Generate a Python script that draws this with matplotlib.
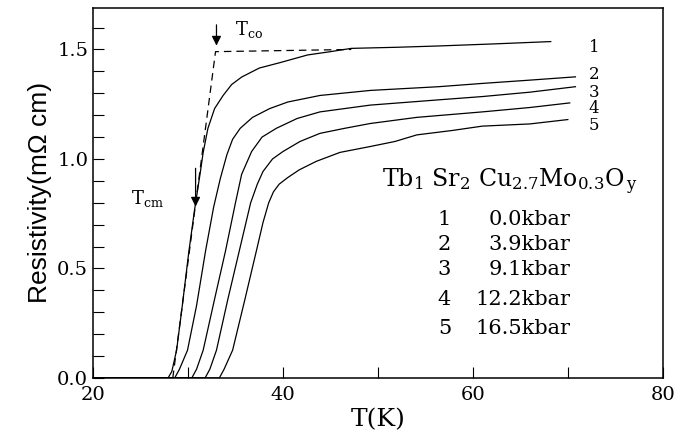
import numpy as np
import matplotlib.pyplot as plt

plt.rcParams['font.family'] = ['DejaVu Serif']
plt.rcParams['mathtext.fontset'] = 'dejavuserif'

# resistivity curves (T in K, rho in mOhm cm)
t1 = [20, 27.9, 28.3, 28.8, 29.4, 30.1, 30.7, 31.3, 31.6, 32.1, 32.8, 33.7, 34.6, 35.65, 37.5, 39.7, 42.6, 45.0, 47.2, 52.0, 56.4, 62.0, 68.2]
r1 = [0, 0, 0.03, 0.127, 0.33, 0.58, 0.77, 0.94, 1.03, 1.14, 1.23, 1.29, 1.34, 1.374, 1.415, 1.44, 1.475, 1.49, 1.505, 1.51, 1.516, 1.525, 1.536]

t2 = [20, 28.6, 29.1, 29.95, 30.9, 31.85, 32.7, 33.4, 34.1, 34.7, 35.5, 36.8, 38.6, 40.5, 43.9, 49.2, 56.4, 61.0, 66.0, 70.8]
r2 = [0, 0, 0.04, 0.127, 0.33, 0.58, 0.78, 0.91, 1.02, 1.09, 1.14, 1.19, 1.23, 1.26, 1.29, 1.313, 1.33, 1.345, 1.36, 1.375]

t3 = [20, 30.4, 30.9, 31.6, 32.8, 33.95, 35.0, 35.65, 36.7, 37.8, 39.3, 41.5, 43.9, 49.2, 56.4, 61.0, 66.0, 70.8]
r3 = [0, 0, 0.04, 0.127, 0.36, 0.58, 0.80, 0.93, 1.034, 1.10, 1.14, 1.185, 1.215, 1.246, 1.27, 1.285, 1.305, 1.33]

t4 = [20, 31.8, 32.3, 33.0, 34.2, 35.4, 36.6, 37.3, 37.9, 38.9, 40.0, 41.8, 43.9, 46.5, 49.2, 54.1, 61.0, 66.0, 70.2]
r4 = [0, 0, 0.04, 0.127, 0.36, 0.58, 0.80, 0.885, 0.943, 1.00, 1.034, 1.08, 1.117, 1.14, 1.162, 1.19, 1.215, 1.235, 1.256]

t5 = [20, 33.3, 33.8, 34.7, 36.0, 37.2, 37.9, 38.5, 39.0, 39.6, 40.5, 41.7, 43.5, 46.0, 49.2, 51.8, 54.1, 57.8, 61.0, 66.0, 70.0]
r5 = [0, 0, 0.04, 0.127, 0.36, 0.58, 0.71, 0.80, 0.85, 0.885, 0.915, 0.95, 0.989, 1.03, 1.057, 1.08, 1.11, 1.13, 1.15, 1.16, 1.18]

temps = [t1, t2, t3, t4, t5]
rhos = [r1, r2, r3, r4, r5]
curve_ids = ['1', '2', '3', '4', '5']
label_y = [1.51, 1.385, 1.305, 1.23, 1.155]
pressures = ['0.0kbar', '3.9kbar', '9.1kbar', '12.2kbar', '16.5kbar']
legend_y = [0.724, 0.61, 0.495, 0.357, 0.227]

# onset construction (dashed)
dash_t = [28.4, 32.9, 47.2]
dash_r = [0.0, 1.49, 1.50]

fig = plt.figure(figsize=(6.84, 4.36), dpi=100)
ax = fig.add_axes([0.136, 0.133, 0.833, 0.849])

for t, r in zip(temps, rhos):
    ax.plot(t, r, color='black', lw=0.9)
ax.plot(dash_t, dash_r, color='black', lw=0.9, ls=(0, (6, 4)))

for cid, y in zip(curve_ids, label_y):
    ax.text(72.2, y, cid, fontsize=12, va='center', ha='left')

ax.text(50.4, 0.896, r'Tb$_1$ Sr$_2$ Cu$_{2.7}$Mo$_{0.3}$O$_{\,\rm y}$',
        fontsize=17, va='center', ha='left')
for cid, p, y in zip(curve_ids, pressures, legend_y):
    ax.text(57.0, y, cid, fontsize=15, va='center', ha='center')
    ax.text(70.3, y, p, fontsize=15, va='center', ha='right')

ax.annotate('', xy=(33.0, 1.505), xytext=(33.0, 1.625),
            arrowprops=dict(arrowstyle='-|>', color='black', lw=0.9, mutation_scale=14))
ax.text(35.0, 1.59, r'T$_{\rm co}$', fontsize=13, va='center', ha='left')
ax.annotate('', xy=(30.8, 0.77), xytext=(30.8, 0.97),
            arrowprops=dict(arrowstyle='-|>', color='black', lw=0.9, mutation_scale=14))
ax.text(24.0, 0.82, r'T$_{\rm cm}$', fontsize=13, va='center', ha='left')

ax.set_xlim(20, 80)
ax.set_ylim(0, 1.69)
ax.set_xticks([20, 40, 60, 80])
ax.set_xticks([30, 50, 70], minor=True)
ax.set_yticks([0.0, 0.5, 1.0, 1.5])
ax.set_yticks(np.arange(0, 1.65, 0.1), minor=True)
ax.set_yticklabels(['0.0', '0.5', '1.0', '1.5'])
ax.tick_params(which='both', direction='in', length=8, width=0.8, labelsize=14,
               top=False, right=False)
ax.tick_params(axis='x', pad=6)
for s in ax.spines.values():
    s.set_linewidth(1.1)

ax.set_xlabel('T(K)', fontsize=18, labelpad=3)
ax.set_ylabel('Resistivity(m\u03a9 cm)', fontsize=19, labelpad=4,
              family=['Liberation Sans', 'DejaVu Sans'])

fig.savefig('out.png', dpi=100)
